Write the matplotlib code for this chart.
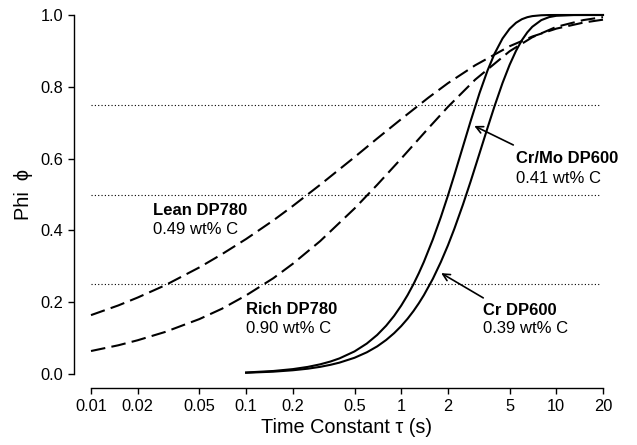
import matplotlib
matplotlib.use("Agg")
import matplotlib.pyplot as plt

plt.rcParams['font.family'] = ['Liberation Sans', 'DejaVu Sans']

# ---- data ----
tau_dash = [0.01, 0.015, 0.02, 0.03, 0.05, 0.07, 0.1, 0.15, 0.2, 0.3, 0.5,
            0.7, 1, 1.5, 2, 3, 5, 7, 10, 15, 20]
lean_dp780 = [0.164, 0.191, 0.213, 0.247, 0.297, 0.334, 0.376, 0.428, 0.468,
              0.527, 0.604, 0.656, 0.710, 0.770, 0.810, 0.860, 0.913, 0.940,
              0.962, 0.979, 0.987]
rich_dp780 = [0.064, 0.080, 0.094, 0.117, 0.153, 0.182, 0.219, 0.267, 0.307,
              0.370, 0.461, 0.527, 0.600, 0.685, 0.744, 0.820, 0.899, 0.938,
              0.967, 0.986, 0.994]

tau_solid = [0.1, 0.15, 0.2, 0.25, 0.3, 0.35, 0.4, 0.5, 0.6, 0.7, 0.8, 0.9,
             1.0, 1.1, 1.2, 1.3, 1.4, 1.6, 1.8, 2.0, 2.2, 2.5, 2.8, 3.2, 3.6,
             4.0, 4.5, 5, 5.5, 6, 6.5, 7, 8, 9, 10, 13, 16, 20]
crmo_dp600 = [0.0042, 0.0084, 0.0136, 0.0198, 0.0269, 0.0348, 0.0435, 0.0629,
              0.0848, 0.1088, 0.1346, 0.1619, 0.1905, 0.2200, 0.2503, 0.2812,
              0.3123, 0.3750, 0.4367, 0.4967, 0.5540, 0.6334, 0.7038, 0.7828,
              0.8451, 0.8925, 0.9345, 0.9616, 0.9784, 0.9883, 0.9939, 0.9969,
              0.9993, 0.9999, 1.0, 1.0, 1.0, 1.0]
cr_dp600 = [0.0034, 0.0065, 0.0104, 0.0148, 0.0199, 0.0256, 0.0317, 0.0452,
            0.0604, 0.0769, 0.0948, 0.1137, 0.1335, 0.1541, 0.1754, 0.1973,
            0.2196, 0.2652, 0.3117, 0.3581, 0.4043, 0.4717, 0.5358, 0.6149,
            0.6852, 0.7465, 0.8105, 0.8612, 0.9004, 0.9299, 0.9516, 0.9672,
            0.9857, 0.9942, 0.9978, 0.9999, 1.0, 1.0]

ref_levels = [0.25, 0.5, 0.75]
ref_range = [0.01, 19.2]

xticks = [0.01, 0.02, 0.05, 0.1, 0.2, 0.5, 1, 2, 5, 10, 20]
xticklabels = ['0.01', '0.02', '0.05', '0.1', '0.2', '0.5', '1', '2', '5', '10', '20']
yticks = [0.0, 0.2, 0.4, 0.6, 0.8, 1.0]
yticklabels = ['0.0', '0.2', '0.4', '0.6', '0.8', '1.0']

# ---- figure ----
fig = plt.figure(figsize=(6.37, 4.45), dpi=100)
ax = fig.add_axes([91/637, 71/445, 512/637, 359/445])

for lv in ref_levels:
    ax.plot(ref_range, [lv, lv], color='black', lw=0.8, linestyle=(0, (1, 2)))

dash = (0, (7, 3))
kw = dict(color='black', lw=1.5, clip_on=False, solid_joinstyle='round',
          dash_joinstyle='round')
ax.plot(tau_dash, lean_dp780, linestyle=dash, **kw)
ax.plot(tau_dash, rich_dp780, linestyle=dash, **kw)
ax.plot(tau_solid, crmo_dp600, **kw)
ax.plot(tau_solid, cr_dp600, **kw)

ax.set_xscale('log')
ax.set_xlim(0.01, 20)
ax.set_ylim(0, 1)
ax.set_xticks(xticks)
ax.set_xticklabels(xticklabels)
ax.minorticks_off()
ax.set_yticks(yticks)
ax.set_yticklabels(yticklabels)

for s in ['top', 'right']:
    ax.spines[s].set_visible(False)
ax.spines['left'].set_position(('outward', 12.2))
ax.spines['bottom'].set_position(('outward', 10.1))
ax.spines['left'].set_bounds(0, 1)
ax.spines['bottom'].set_bounds(0.01, 20)
for s in ['left', 'bottom']:
    ax.spines[s].set_linewidth(1.0)
ax.tick_params(axis='both', direction='out', length=4, width=1.0,
               labelsize=11.8, pad=4)

ax.set_xlabel('Time Constant τ (s)', fontsize=14.3, labelpad=3)
ax.set_ylabel('Phi  ϕ', fontsize=14.3, labelpad=5)

fs = 12
ax.text(0.0251, 0.443, 'Lean DP780', fontsize=fs, fontweight='bold', va='baseline')
ax.text(0.0251, 0.391, '0.49 wt% C', fontsize=fs, va='baseline')
ax.text(0.1, 0.167, 'Rich DP780', fontsize=fs, fontweight='bold', va='baseline')
ax.text(0.1, 0.114, '0.90 wt% C', fontsize=fs, va='baseline')
ax.text(5.5, 0.587, 'Cr/Mo DP600', fontsize=fs, fontweight='bold', va='baseline')
ax.text(5.5, 0.533, '0.41 wt% C', fontsize=fs, va='baseline')
ax.text(3.35, 0.164, 'Cr DP600', fontsize=fs, fontweight='bold', va='baseline')
ax.text(3.35, 0.113, '0.39 wt% C', fontsize=fs, va='baseline')

ap = dict(arrowstyle='->,head_length=0.5,head_width=0.25', color='black', lw=1.2,
          shrinkA=0, shrinkB=0)
ax.annotate('', xy=(2.96, 0.691), xytext=(5.28, 0.638), arrowprops=ap)
ax.annotate('', xy=(1.81, 0.281), xytext=(3.38, 0.212), arrowprops=ap)

fig.savefig('out.png', dpi=100)
